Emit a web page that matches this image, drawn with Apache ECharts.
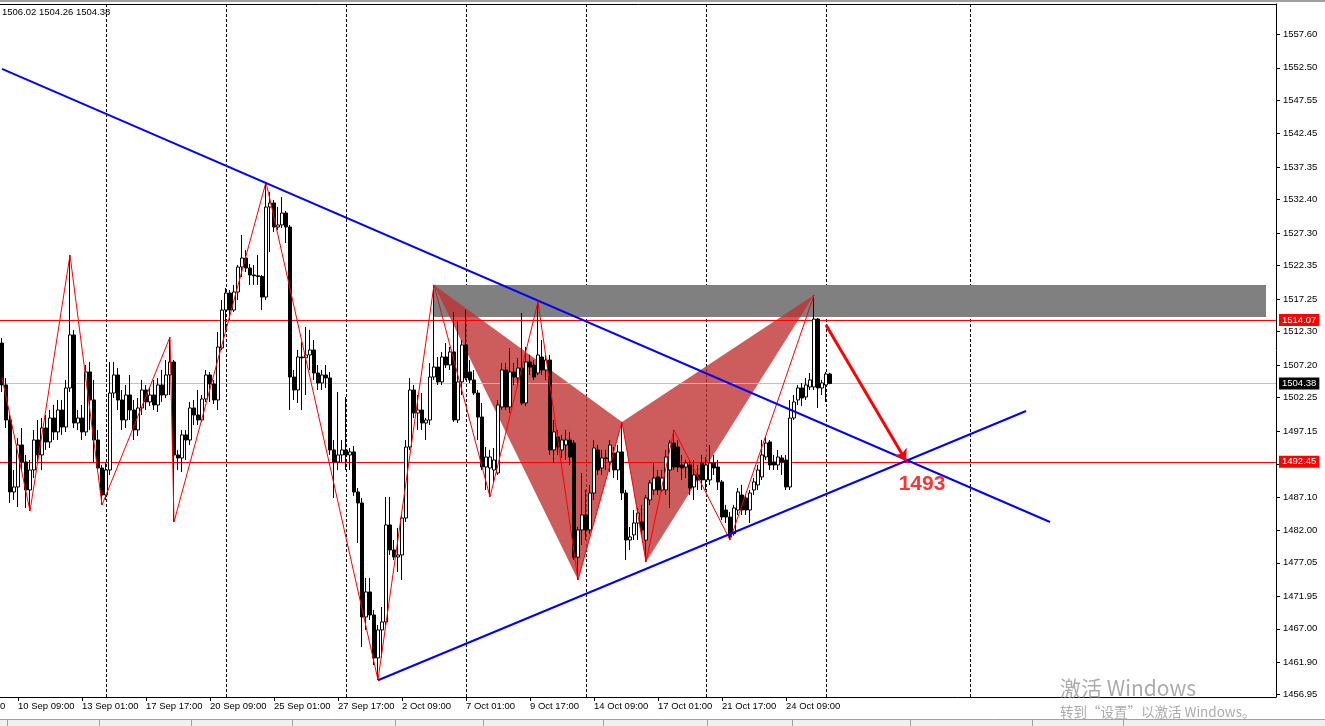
<!DOCTYPE html>
<html>
<head>
<meta charset="utf-8">
<title>XAUUSD H4</title>
<script src="https://cdn.jsdelivr.net/npm/echarts@6.0.0/dist/echarts.min.js"></script>
<style>
  html, body { margin: 0; padding: 0; background: #fff; }
  #chart { width: 1325px; height: 726px; }
</style>
</head>
<body>
<div id="chart"></div>
<script>
// H4 bars, 4 px per bar, the chart keeps room for future bars on the right
const barSlots = 319;
const firstLabelBar = 4;
const labelEvery = 16;
const timeLabels = ['10 Sep 09:00', '13 Sep 01:00', '17 Sep 17:00', '20 Sep 09:00', '25 Sep 01:00',
  '27 Sep 17:00', '2 Oct 09:00', '7 Oct 01:00', '9 Oct 17:00', '14 Oct 09:00', '17 Oct 01:00',
  '21 Oct 17:00', '24 Oct 09:00'];
const leftCutLabel = '5 Sep 17:00';
const weekLineBars = [26, 56, 86, 116, 146, 176, 206, 242];

const yTicks = [1456.95, 1461.90, 1467.00, 1471.95, 1477.05, 1482.00, 1487.10, 1492.05, 1497.15,
  1502.25, 1507.20, 1512.30, 1517.25, 1522.35, 1527.30, 1532.40, 1537.35, 1542.45, 1547.55,
  1552.50, 1557.60];

// [open, close, low, high]
const candles = [
  [1510.55,1504.16,1503.09,1511.32],[1504.16,1498.82,1497.60,1505.22],[1498.82,1487.85,1486.17,1499.58],
  [1487.85,1488.61,1486.63,1491.20],[1488.61,1495.01,1485.56,1496.08],[1495.01,1492.42,1491.20,1497.60],
  [1492.42,1488.15,1485.40,1493.49],[1488.15,1491.20,1484.95,1492.72],[1491.20,1495.77,1489.98,1497.30],
  [1495.77,1493.49,1492.42,1498.82],[1493.49,1497.60,1491.20,1499.12],[1497.60,1495.47,1494.25,1499.58],
  [1495.47,1499.12,1494.55,1500.34],[1499.12,1497.00,1495.77,1501.11],[1497.00,1500.34,1495.77,1501.87],
  [1500.34,1497.75,1496.54,1501.87],[1497.75,1503.70,1497.00,1504.92],[1503.70,1511.78,1503.09,1523.97],
  [1511.78,1498.36,1497.60,1512.54],[1498.36,1499.12,1497.30,1500.34],[1499.12,1497.00,1495.77,1501.11],
  [1497.00,1506.14,1496.39,1507.20],[1506.14,1501.87,1497.30,1507.66],[1501.87,1495.77,1492.42,1504.92],
  [1495.77,1491.50,1491.20,1497.30],[1491.50,1487.39,1485.87,1491.96],[1487.39,1491.20,1486.63,1492.42],
  [1491.20,1502.93,1490.44,1507.66],[1502.93,1505.68,1502.17,1507.66],[1505.68,1501.87,1500.34,1506.74],
  [1501.87,1498.82,1497.30,1503.39],[1498.82,1502.63,1497.60,1504.16],[1502.63,1500.34,1498.82,1505.68],
  [1500.34,1497.30,1495.77,1501.87],[1497.30,1500.65,1496.39,1502.17],[1500.65,1503.39,1499.58,1504.92],
  [1503.39,1501.57,1500.34,1504.16],[1501.57,1502.63,1500.96,1503.70],[1502.63,1501.11,1500.34,1504.92],
  [1501.11,1504.16,1500.04,1505.22],[1504.16,1502.63,1501.57,1506.44],[1502.63,1505.68,1502.17,1507.96],
  [1505.68,1507.66,1502.63,1511.47],[1507.66,1493.49,1483.28,1507.96],[1493.49,1493.03,1491.20,1494.25],
  [1493.03,1496.54,1490.90,1497.30],[1496.54,1495.77,1492.72,1497.30],[1495.77,1500.65,1495.01,1501.57],
  [1500.65,1499.58,1498.06,1501.87],[1499.58,1498.82,1498.06,1503.39],[1498.82,1502.02,1498.52,1502.63],
  [1502.02,1505.68,1501.57,1506.44],[1505.68,1504.31,1501.57,1506.14],[1504.31,1501.87,1501.26,1504.92],
  [1501.87,1509.94,1500.34,1512.24],[1509.79,1515.58,1509.49,1517.11],[1515.58,1518.17,1512.54,1518.94],
  [1518.17,1515.58,1514.06,1518.63],[1515.58,1518.33,1515.28,1519.40],[1518.33,1522.13,1517.11,1522.44],
  [1522.13,1523.51,1520.61,1527.02],[1523.51,1521.98,1521.38,1524.73],[1521.98,1520.92,1519.40,1522.59],
  [1520.92,1520.80,1519.40,1522.44],[1520.80,1520.70,1519.40,1523.97],[1520.70,1517.56,1515.58,1520.92],
  [1517.56,1531.28,1517.11,1535.10],[1531.28,1531.89,1524.43,1533.57],[1531.89,1528.23,1527.48,1532.35],
  [1528.23,1528.54,1527.78,1531.28],[1528.54,1530.36,1528.08,1532.80],[1530.36,1528.23,1525.79,1530.67],
  [1528.23,1505.37,1500.34,1528.54],[1505.37,1503.39,1501.87,1506.44],[1503.39,1508.42,1501.41,1509.49],
  [1508.42,1508.30,1500.34,1510.71],[1508.30,1508.73,1502.63,1512.99],[1508.73,1509.49,1506.44,1512.54],
  [1509.49,1505.98,1504.92,1511.01],[1505.98,1504.46,1503.39,1507.20],[1504.46,1505.68,1503.39,1506.44],
  [1505.68,1505.22,1503.70,1507.20],[1505.22,1494.25,1493.49,1506.14],[1494.25,1492.42,1486.93,1495.77],
  [1492.42,1493.49,1491.20,1503.09],[1493.49,1494.25,1492.42,1495.77],[1494.25,1493.49,1491.20,1502.32],
  [1493.49,1493.95,1491.20,1494.55],[1493.95,1487.85,1487.24,1494.86],[1487.85,1486.17,1480.07,1488.46],
  [1486.17,1468.79,1464.22,1486.93],[1468.79,1472.61,1466.82,1474.74],[1472.61,1469.10,1468.34,1474.74],
  [1469.10,1462.55,1461.48,1469.86],[1462.55,1466.82,1459.20,1467.58],[1466.82,1468.04,1462.55,1470.32],
  [1468.04,1482.82,1467.58,1487.09],[1482.82,1479.01,1478.25,1487.09],[1479.01,1477.94,1477.48,1480.53],
  [1477.94,1478.25,1475.66,1482.36],[1478.25,1483.88,1474.44,1484.34],[1483.88,1494.70,1483.28,1495.77],
  [1494.70,1503.39,1494.25,1505.22],[1503.39,1499.88,1499.12,1504.16],[1499.88,1500.34,1497.30,1502.63],
  [1500.34,1498.36,1497.30,1502.93],[1498.36,1498.82,1495.77,1499.12],[1498.82,1505.37,1498.06,1507.50],
  [1505.37,1506.89,1504.92,1519.40],[1506.89,1504.62,1504.16,1508.42],[1504.62,1508.42,1504.16,1509.19],
  [1508.42,1507.20,1506.74,1510.55],[1507.20,1509.19,1506.44,1509.94],[1509.19,1498.82,1498.52,1515.28],
  [1498.82,1504.62,1498.36,1514.06],[1504.62,1510.25,1502.63,1511.01],[1510.25,1505.22,1504.92,1515.58],
  [1506.14,1504.92,1504.46,1507.96],[1504.92,1502.93,1502.63,1506.44],[1502.93,1499.27,1495.77,1503.39],
  [1499.27,1491.65,1491.20,1501.41],[1491.65,1493.18,1488.15,1494.70],[1491.50,1493.18,1487.09,1494.25],
  [1491.20,1492.72,1489.22,1494.55],[1490.74,1501.11,1490.44,1501.87],[1500.80,1506.44,1500.34,1507.50],
  [1506.44,1500.80,1500.34,1507.50],[1500.80,1506.14,1499.88,1509.79],[1506.14,1505.37,1504.16,1507.50],
  [1505.22,1506.74,1504.16,1508.26],[1506.74,1501.41,1501.11,1515.12],[1501.41,1507.66,1500.96,1509.94],
  [1507.66,1506.89,1505.68,1508.73],[1507.20,1505.37,1504.92,1507.96],[1505.98,1508.73,1505.68,1516.81],
  [1508.42,1506.44,1505.68,1511.01],[1506.44,1507.96,1504.92,1508.73],[1507.96,1494.25,1493.49,1508.73],
  [1494.25,1497.00,1492.26,1498.82],[1496.23,1494.70,1493.49,1497.30],[1494.25,1495.77,1493.03,1496.54],
  [1495.01,1495.77,1492.72,1497.30],[1495.77,1493.18,1491.96,1497.00],[1495.31,1477.90,1477.48,1495.77],
  [1477.90,1482.06,1474.44,1482.51],[1482.06,1484.34,1479.77,1490.74],[1484.34,1482.06,1480.53,1488.15],
  [1482.06,1487.69,1481.50,1488.92],[1487.69,1494.55,1486.63,1495.77],[1494.25,1491.20,1490.44,1495.01],
  [1491.50,1493.03,1490.44,1494.25],[1493.03,1492.95,1491.20,1494.25],[1492.42,1495.01,1490.90,1495.77],
  [1493.79,1491.20,1489.98,1494.70],[1491.20,1493.95,1489.68,1495.01],[1493.95,1487.69,1486.63,1498.52],
  [1487.69,1480.53,1477.48,1488.15],[1480.53,1480.99,1479.01,1482.51],[1481.30,1483.12,1480.53,1485.10],
  [1483.12,1484.64,1480.53,1485.41],[1483.28,1482.06,1481.30,1485.87],[1480.50,1486.93,1477.18,1487.39],
  [1486.63,1489.22,1485.87,1489.68],[1488.15,1489.98,1487.39,1492.26],[1490.14,1488.15,1487.39,1491.20],
  [1488.15,1489.98,1487.85,1491.20],[1488.15,1493.18,1487.39,1494.25],[1491.20,1495.31,1485.41,1495.77],
  [1495.31,1491.65,1491.20,1497.30],[1494.70,1491.65,1490.90,1495.77],[1491.96,1491.50,1489.68,1493.49],
  [1491.65,1492.26,1489.98,1492.72],[1491.96,1488.46,1487.39,1492.72],[1488.61,1490.44,1486.63,1492.72],
  [1490.44,1489.68,1488.15,1491.96],[1492.26,1489.68,1488.15,1493.49],[1489.68,1491.96,1488.15,1493.18],
  [1489.68,1492.26,1488.92,1495.01],[1492.26,1491.50,1490.44,1493.49],[1491.65,1489.38,1488.15,1492.72],
  [1489.38,1484.03,1483.58,1489.68],[1485.10,1484.03,1483.12,1485.87],[1484.03,1481.00,1480.53,1484.80],
  [1481.50,1485.41,1481.20,1485.87],[1485.10,1487.85,1484.34,1488.46],[1487.39,1485.10,1484.34,1488.92],
  [1486.93,1485.10,1484.34,1487.39],[1485.10,1487.69,1483.12,1488.15],[1488.15,1489.38,1487.39,1489.98],
  [1488.92,1491.20,1488.15,1491.96],[1490.14,1493.49,1489.68,1495.77],[1493.18,1495.31,1492.72,1496.23],
  [1495.47,1491.96,1491.20,1495.77],[1492.42,1491.96,1491.20,1493.49],[1491.96,1493.18,1491.20,1494.25],
  [1493.03,1492.42,1490.44,1493.49],[1492.72,1488.61,1488.15,1493.49],[1488.61,1499.12,1488.15,1501.87],
  [1499.12,1501.57,1498.82,1502.63],[1501.87,1503.70,1501.11,1504.16],[1503.70,1502.17,1500.96,1504.46],
  [1502.32,1504.16,1501.87,1505.22],[1503.85,1504.92,1503.39,1505.98],[1503.85,1514.20,1503.39,1517.87],
  [1514.20,1503.70,1500.65,1514.36],[1503.70,1504.46,1502.63,1504.92],[1504.16,1505.83,1501.57,1506.14],
  [1505.83,1504.38,1504.26,1506.02]
];

// zigzag swing points [bar, price]
const zigzag = [[0, 1505.30], [7, 1484.95], [17, 1523.97], [25, 1485.87], [42, 1511.47], [43, 1483.28],
  [66, 1535.10], [94, 1459.20], [108, 1519.40], [122, 1487.09], [134, 1516.81], [144, 1474.44],
  [155, 1498.52], [161, 1477.18], [168, 1497.30], [182, 1480.53], [203, 1517.87]];

// harmonic pattern: X-A-B and B-C-D triangles
const harmonics = [
  [[108, 1519.40], [144, 1474.44], [155, 1498.52]],
  [[155, 1498.52], [161, 1477.18], [203, 1517.87]]
];

const trendDown = [[0, 1552.33], [262, 1483.27]];
const trendUp = [[94, 1459.16], [256, 1500.19]];
const zoneBox = [[108, 1519.40], [316, 1514.50]];
const arrowPath = [[206, 1513.30], [226, 1492.60]];
const targetPoint = [230, 1489.10];
const targetText = '1493';

const priceLevels = [1514.07, 1504.38, 1492.45];
const levelColors = ['#ff0000', '#c0c0c0', '#ff0000'];
const levelBoxColors = ['#ff0000', '#000000', '#ff0000'];
const lastQuote = '1506.02 1504.26 1504.38';

const FONT = '"Liberation Sans", Arial, sans-serif';

function xLabelAt(i) {
  const k = (i - firstLabelBar) / labelEvery;
  return Number.isInteger(k) && k >= 0 && k < timeLabels.length ? timeLabels[k] : '';
}

const categories = Array.from({ length: barSlots }, (_, i) => String(i));

const chart = echarts.init(document.getElementById('chart'));

const option = {
  animation: false,
  backgroundColor: '#ffffff',
  grid: { left: 0, right: 49, top: 4, bottom: 29 },
  xAxis: {
    type: 'category',
    data: categories,
    boundaryGap: true,
    axisLine: { show: true, onZero: false, lineStyle: { color: '#000', width: 1 } },
    axisTick: {
      show: true, alignWithLabel: true, length: 4,
      interval: (i) => xLabelAt(i) !== '',
      lineStyle: { color: '#000' }
    },
    axisLabel: {
      interval: (i) => xLabelAt(i) !== '',
      formatter: (v, i) => xLabelAt(i),
      align: 'left', margin: 4,
      color: '#000', fontFamily: FONT, fontSize: 9.5
    },
    splitLine: { show: false }
  },
  yAxis: {
    type: 'value',
    position: 'right',
    min: 1456.60,
    max: 1562.22,
    axisLine: { show: true, lineStyle: { color: '#000', width: 1 } },
    axisTick: { show: true, length: 4, customValues: yTicks, lineStyle: { color: '#000' } },
    axisLabel: {
      customValues: yTicks, margin: 7,
      color: '#000', fontFamily: FONT, fontSize: 9.5,
      formatter: (v) => v.toFixed(2)
    },
    splitLine: { show: false }
  },
  series: [
    {
      // harmonic triangles
      type: 'custom',
      z: 3,
      silent: true,
      data: harmonics.map((t) => [t[0][0], t[0][1]]),
      renderItem: (params, api) => {
        const pts = harmonics[params.dataIndex].map((p) => api.coord(p));
        return {
          type: 'polygon',
          shape: { points: pts },
          style: { fill: 'rgba(192,48,48,0.787)' }
        };
      }
    },
    {
      type: 'candlestick',
      data: candles,
      barWidth: 3,
      z: 5,
      silent: true,
      itemStyle: {
        color: '#ffffff', color0: '#000000',
        borderColor: '#000000', borderColor0: '#000000', borderWidth: 1
      },
      markLine: {
        z: 4,
        silent: true,
        symbol: 'none',
        data: priceLevels.map((v, i) => ({
          yAxis: v,
          lineStyle: { color: levelColors[i], width: 1, type: 'solid' },
          label: {
            show: true, position: 'end', distance: 3,
            formatter: v.toFixed(2),
            color: '#ffffff', backgroundColor: levelBoxColors[i],
            padding: [1, 3, 1, 3], lineHeight: 10,
            fontFamily: FONT, fontSize: 9.5
          }
        }))
      },
      markArea: {
        z: 2,
        silent: true,
        itemStyle: { color: '#808080', opacity: 1 },
        data: [[{ coord: zoneBox[0] }, { coord: zoneBox[1] }]]
      }
    },
    {
      // zigzag
      type: 'line',
      data: zigzag,
      symbol: 'none',
      z: 6,
      silent: true,
      lineStyle: { color: '#ff0000', width: 1 },
      markLine: {
        z: 1,
        silent: true,
        symbol: 'none',
        label: { show: false },
        lineStyle: { color: '#000000', width: 1, type: [3, 2] },
        data: weekLineBars.map((b) => ({ xAxis: b }))
      }
    },
    {
      type: 'line',
      data: trendDown,
      symbol: 'none',
      z: 7,
      silent: true,
      lineStyle: { color: '#0000ff', width: 2 }
    },
    {
      type: 'line',
      data: trendUp,
      symbol: 'none',
      z: 7,
      silent: true,
      lineStyle: { color: '#0000ff', width: 2 },
      markLine: {
        z: 8,
        silent: true,
        symbol: ['none', 'arrow'],
        symbolSize: 11,
        label: { show: false },
        lineStyle: { color: '#ff0000', width: 3, type: 'solid' },
        data: [[{ coord: arrowPath[0] }, { coord: arrowPath[1] }]]
      }
    },
    {
      type: 'scatter',
      data: [targetPoint],
      symbolSize: 1,
      z: 9,
      silent: true,
      itemStyle: { color: 'rgba(0,0,0,0)' },
      label: {
        show: true, position: 'inside', formatter: targetText,
        color: '#ff0000', fontFamily: FONT, fontSize: 21, fontWeight: 'bold'
      }
    }
  ],
  graphic: [
    { type: 'rect', shape: { x: 0, y: 0, width: 1325, height: 2 }, style: { fill: '#a0a0a0' }, silent: true },
    { type: 'line', shape: { x1: 0, y1: 4.5, x2: 1276.5, y2: 4.5 }, style: { stroke: '#000', lineWidth: 1 }, silent: true },
    { type: 'text', x: 2, y: 12, silent: true,
      style: { text: lastQuote, font: '9.5px ' + FONT, fill: '#000', verticalAlign: 'middle' } },
    { type: 'text', x: -46, y: 701, silent: true,
      style: { text: leftCutLabel, font: '9.5px ' + FONT, fill: '#000', verticalAlign: 'top' } },
    { type: 'rect', shape: { x: 0, y: 719, width: 1325, height: 7 }, style: { fill: '#f0f0f0' }, silent: true },
    { type: 'line', shape: { x1: 0, y1: 719.5, x2: 1325, y2: 719.5 }, style: { stroke: '#a0a0a0' }, silent: true },
    ...[7, 99, 191, 292, 395, 483, 603, 707, 792, 910, 1032, 1123].map((x) => ({
      type: 'line', silent: true,
      shape: { x1: x + 0.5, y1: 720, x2: x + 0.5, y2: 726 }, style: { stroke: '#a0a0a0' }
    })),
    { type: 'text', x: 1060, y: 688, z: 100, silent: true,
      style: { text: '激活 Windows', font: '21px "Noto Sans CJK SC", sans-serif', fill: 'rgba(150,150,150,0.8)', verticalAlign: 'middle' } },
    { type: 'text', x: 1060, y: 712, z: 100, silent: true,
      style: { text: '转到“设置”以激活 Windows。', font: '13.5px "Noto Sans CJK SC", sans-serif', fill: 'rgba(150,150,150,0.8)', verticalAlign: 'middle' } }
  ]
};

chart.setOption(option);
window.addEventListener('resize', () => chart.resize());
</script>
</body>
</html>
